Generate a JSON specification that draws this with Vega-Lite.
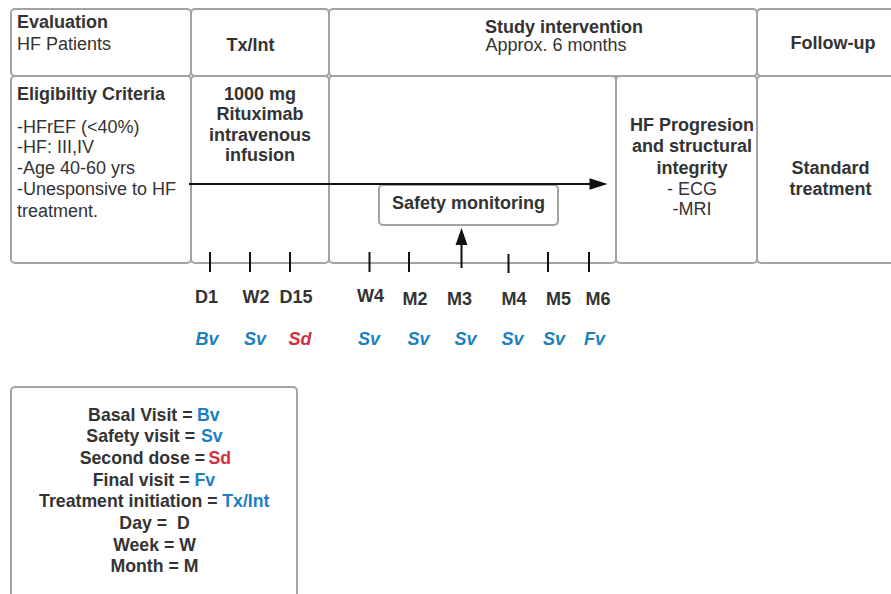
{
  "$schema": "https://vega.github.io/schema/vega-lite/v6.json",
  "width": 891,
  "height": 594,
  "autosize": {"type": "fit", "contains": "padding"},
  "padding": 0,
  "background": "white",
  "config": {"view": {"stroke": null}},
  "datasets": {
    "boxes": [
      {"name": "Evaluation", "x": 11, "x2": 191, "y": 9, "y2": 76},
      {"name": "TxTop", "x": 191, "x2": 329, "y": 9, "y2": 76},
      {"name": "StudyTop", "x": 329, "x2": 757, "y": 9, "y2": 76},
      {"name": "FollowTop", "x": 757, "x2": 900, "y": 9, "y2": 76},
      {"name": "Eligibility", "x": 11, "x2": 191, "y": 76, "y2": 263},
      {"name": "TxLow", "x": 191, "x2": 329, "y": 76, "y2": 263},
      {"name": "MidLow", "x": 329, "x2": 616, "y": 76, "y2": 263},
      {"name": "HF", "x": 616, "x2": 757, "y": 76, "y2": 263},
      {"name": "FollowLow", "x": 757, "x2": 900, "y": 76, "y2": 263},
      {"name": "Safety", "x": 379, "x2": 558, "y": 185, "y2": 225},
      {"name": "Legend", "x": 11, "x2": 297, "y": 387, "y2": 620}
    ],
    "ticks": [
      {"t": "D1", "x": 210, "y": 252, "y2": 272},
      {"t": "W2", "x": 250, "y": 252, "y2": 272},
      {"t": "D15", "x": 290, "y": 252, "y2": 272},
      {"t": "W4", "x": 369.5, "y": 252, "y2": 272},
      {"t": "M2", "x": 409, "y": 252, "y2": 272},
      {"t": "M4", "x": 508.5, "y": 254, "y2": 273},
      {"t": "M5", "x": 548, "y": 252, "y2": 272},
      {"t": "M6", "x": 589, "y": 252, "y2": 272}
    ],
    "arrowLines": [
      {"a": "timeline", "x": 189, "x2": 592, "y": 184, "y2": 184},
      {"a": "safety", "x": 461.5, "x2": 461.5, "y": 244, "y2": 268}
    ],
    "heads": [
      {"a": "timeline", "x": 598.5, "y": 184, "dir": "right"},
      {"a": "safety", "x": 461.5, "y": 236.5, "dir": "up"}
    ],
    "texts": [
      {"role": "boldLeft", "tone": "dark", "x": 17, "y": 23, "text": "Evaluation"},
      {"role": "boldLeft", "tone": "dark", "x": 17, "y": 95, "text": "Eligibiltiy Criteria"},
      {"role": "regLeft", "tone": "dark", "x": 17, "y": 44.5, "text": "HF Patients"},
      {"role": "regLeft", "tone": "dark", "x": 17, "y": 127.5, "text": "-HFrEF (<40%)"},
      {"role": "regLeft", "tone": "dark", "x": 17, "y": 148, "text": "-HF: III,IV"},
      {"role": "regLeft", "tone": "dark", "x": 17, "y": 169, "text": "-Age 40-60 yrs"},
      {"role": "regLeft", "tone": "dark", "x": 17, "y": 190, "text": "-Unesponsive to HF"},
      {"role": "regLeft", "tone": "dark", "x": 17, "y": 211.5, "text": "treatment."},
      {"role": "boldCenter", "tone": "dark", "x": 250.5, "y": 45.5, "text": "Tx/Int"},
      {"role": "boldCenter", "tone": "dark", "x": 564, "y": 27.5, "text": "Study intervention"},
      {"role": "regCenter", "tone": "dark", "x": 556, "y": 46, "text": "Approx. 6 months"},
      {"role": "boldCenter", "tone": "dark", "x": 833, "y": 43.5, "text": "Follow-up"},
      {"role": "boldCenter", "tone": "dark", "x": 260, "y": 94.5, "text": "1000 mg"},
      {"role": "boldCenter", "tone": "dark", "x": 260, "y": 115, "text": "Rituximab"},
      {"role": "boldCenter", "tone": "dark", "x": 260, "y": 135.5, "text": "intravenous"},
      {"role": "boldCenter", "tone": "dark", "x": 260, "y": 156, "text": "infusion"},
      {"role": "boldCenter", "tone": "dark", "x": 692, "y": 125.5, "text": "HF Progresion"},
      {"role": "boldCenter", "tone": "dark", "x": 692, "y": 147, "text": "and structural"},
      {"role": "boldCenter", "tone": "dark", "x": 692, "y": 169, "text": "integrity"},
      {"role": "regCenter", "tone": "dark", "x": 692, "y": 189.5, "text": "- ECG"},
      {"role": "regCenter", "tone": "dark", "x": 692, "y": 210, "text": "-MRI"},
      {"role": "boldCenter", "tone": "dark", "x": 830.5, "y": 169, "text": "Standard"},
      {"role": "boldCenter", "tone": "dark", "x": 830.5, "y": 189.5, "text": "treatment"},
      {"role": "boldCenter", "tone": "dark", "x": 468.5, "y": 203.5, "text": "Safety monitoring"},
      {"role": "boldCenter", "tone": "dark", "x": 206.5, "y": 297.5, "text": "D1"},
      {"role": "boldCenter", "tone": "dark", "x": 256, "y": 297.5, "text": "W2"},
      {"role": "boldCenter", "tone": "dark", "x": 296, "y": 297.5, "text": "D15"},
      {"role": "boldCenter", "tone": "dark", "x": 370.5, "y": 297, "text": "W4"},
      {"role": "boldCenter", "tone": "dark", "x": 415, "y": 299.5, "text": "M2"},
      {"role": "boldCenter", "tone": "dark", "x": 459.5, "y": 299.5, "text": "M3"},
      {"role": "boldCenter", "tone": "dark", "x": 514, "y": 299.5, "text": "M4"},
      {"role": "boldCenter", "tone": "dark", "x": 558.5, "y": 299.5, "text": "M5"},
      {"role": "boldCenter", "tone": "dark", "x": 598, "y": 299.5, "text": "M6"},
      {"role": "visit", "tone": "blue", "x": 207, "y": 340, "text": "Bv"},
      {"role": "visit", "tone": "blue", "x": 255, "y": 340, "text": "Sv"},
      {"role": "visit", "tone": "red", "x": 300, "y": 340, "text": "Sd"},
      {"role": "visit", "tone": "blue", "x": 369, "y": 340, "text": "Sv"},
      {"role": "visit", "tone": "blue", "x": 418.5, "y": 340, "text": "Sv"},
      {"role": "visit", "tone": "blue", "x": 465.5, "y": 340, "text": "Sv"},
      {"role": "visit", "tone": "blue", "x": 512.5, "y": 340, "text": "Sv"},
      {"role": "visit", "tone": "blue", "x": 554, "y": 340, "text": "Sv"},
      {"role": "visit", "tone": "blue", "x": 594.5, "y": 340, "text": "Fv"},
      {"role": "legendKey", "tone": "dark", "x": 192.5, "y": 416, "text": "Basal Visit ="},
      {"role": "legendVal", "tone": "blue", "x": 197, "y": 416, "text": "Bv"},
      {"role": "legendKey", "tone": "dark", "x": 195, "y": 437, "text": "Safety visit ="},
      {"role": "legendVal", "tone": "blue", "x": 201, "y": 437, "text": "Sv"},
      {"role": "legendKey", "tone": "dark", "x": 205, "y": 459, "text": "Second dose ="},
      {"role": "legendVal", "tone": "red", "x": 208.5, "y": 459, "text": "Sd"},
      {"role": "legendKey", "tone": "dark", "x": 189.5, "y": 481, "text": "Final visit ="},
      {"role": "legendVal", "tone": "blue", "x": 194.5, "y": 481, "text": "Fv"},
      {"role": "legendKey", "tone": "dark", "x": 217.5, "y": 502, "text": "Treatment initiation ="},
      {"role": "legendVal", "tone": "blue", "x": 222.3, "y": 502, "text": "Tx/Int"},
      {"role": "legendCenter", "tone": "dark", "x": 154.5, "y": 524, "text": "Day = \u00a0D"},
      {"role": "legendCenter", "tone": "dark", "x": 154.5, "y": 545.5, "text": "Week = W"},
      {"role": "legendCenter", "tone": "dark", "x": 154.5, "y": 566.5, "text": "Month = M"}
    ]
  },
  "layer": [
    {
      "data": {"name": "boxes"},
      "mark": {"type": "rect", "fill": "white", "stroke": "#a3a3a3", "strokeWidth": 2, "cornerRadius": 4, "clip": true},
      "encoding": {
        "x": {"field": "x", "type": "quantitative", "scale": {"domain": [0, 891], "nice": false, "zero": false}, "axis": null},
        "x2": {"field": "x2"},
        "y": {"field": "y", "type": "quantitative", "scale": {"domain": [0, 594], "nice": false, "zero": false, "reverse": true}, "axis": null},
        "y2": {"field": "y2"}
      }
    },
    {
      "data": {"name": "ticks"},
      "mark": {"type": "rule", "color": "#111111", "strokeWidth": 2},
      "encoding": {
        "x": {"field": "x", "type": "quantitative"},
        "y": {"field": "y", "type": "quantitative"},
        "y2": {"field": "y2"}
      }
    },
    {
      "data": {"name": "arrowLines"},
      "mark": {"type": "rule", "color": "#111111", "strokeWidth": 2},
      "encoding": {
        "x": {"field": "x", "type": "quantitative"},
        "x2": {"field": "x2"},
        "y": {"field": "y", "type": "quantitative"},
        "y2": {"field": "y2"}
      }
    },
    {
      "data": {"name": "heads"},
      "transform": [{"filter": "datum.dir === 'right'"}],
      "mark": {"type": "point", "filled": true, "color": "#111111", "opacity": 1, "size": 324, "shape": "M-1,-0.65L1,0L-1,0.65Z"},
      "encoding": {
        "x": {"field": "x", "type": "quantitative"},
        "y": {"field": "y", "type": "quantitative"}
      }
    },
    {
      "data": {"name": "heads"},
      "transform": [{"filter": "datum.dir === 'up'"}],
      "mark": {"type": "point", "filled": true, "color": "#111111", "opacity": 1, "size": 289, "shape": "M-0.7,1L0,-1L0.7,1Z"},
      "encoding": {
        "x": {"field": "x", "type": "quantitative"},
        "y": {"field": "y", "type": "quantitative"}
      }
    },
    {
      "data": {"name": "texts"},
      "transform": [{"filter": "datum.role === 'boldLeft'"}],
      "mark": {"type": "text", "font": "Liberation Sans", "fontSize": 18, "fontWeight": "bold", "align": "left", "baseline": "middle"},
      "encoding": {
        "x": {"field": "x", "type": "quantitative"},
        "y": {"field": "y", "type": "quantitative"},
        "text": {"field": "text"},
        "color": {"field": "tone", "type": "nominal", "scale": {"domain": ["dark", "blue", "red"], "range": ["#333333", "#1b7fc0", "#d2323c"]}, "legend": null}
      }
    },
    {
      "data": {"name": "texts"},
      "transform": [{"filter": "datum.role === 'regLeft'"}],
      "mark": {"type": "text", "font": "Liberation Sans", "fontSize": 18, "align": "left", "baseline": "middle"},
      "encoding": {
        "x": {"field": "x", "type": "quantitative"},
        "y": {"field": "y", "type": "quantitative"},
        "text": {"field": "text"},
        "color": {"field": "tone", "type": "nominal", "legend": null}
      }
    },
    {
      "data": {"name": "texts"},
      "transform": [{"filter": "datum.role === 'boldCenter'"}],
      "mark": {"type": "text", "font": "Liberation Sans", "fontSize": 18, "fontWeight": "bold", "align": "center", "baseline": "middle"},
      "encoding": {
        "x": {"field": "x", "type": "quantitative"},
        "y": {"field": "y", "type": "quantitative"},
        "text": {"field": "text"},
        "color": {"field": "tone", "type": "nominal", "legend": null}
      }
    },
    {
      "data": {"name": "texts"},
      "transform": [{"filter": "datum.role === 'regCenter'"}],
      "mark": {"type": "text", "font": "Liberation Sans", "fontSize": 18, "align": "center", "baseline": "middle"},
      "encoding": {
        "x": {"field": "x", "type": "quantitative"},
        "y": {"field": "y", "type": "quantitative"},
        "text": {"field": "text"},
        "color": {"field": "tone", "type": "nominal", "legend": null}
      }
    },
    {
      "data": {"name": "texts"},
      "transform": [{"filter": "datum.role === 'visit'"}],
      "mark": {"type": "text", "font": "Liberation Sans", "fontSize": 18, "fontWeight": "bold", "fontStyle": "italic", "align": "center", "baseline": "middle"},
      "encoding": {
        "x": {"field": "x", "type": "quantitative"},
        "y": {"field": "y", "type": "quantitative"},
        "text": {"field": "text"},
        "color": {"field": "tone", "type": "nominal", "legend": null}
      }
    },
    {
      "data": {"name": "texts"},
      "transform": [{"filter": "datum.role === 'legendKey'"}],
      "mark": {"type": "text", "font": "Liberation Sans", "fontSize": 17.7, "fontWeight": "bold", "align": "right", "baseline": "middle"},
      "encoding": {
        "x": {"field": "x", "type": "quantitative"},
        "y": {"field": "y", "type": "quantitative"},
        "text": {"field": "text"},
        "color": {"field": "tone", "type": "nominal", "legend": null}
      }
    },
    {
      "data": {"name": "texts"},
      "transform": [{"filter": "datum.role === 'legendVal'"}],
      "mark": {"type": "text", "font": "Liberation Sans", "fontSize": 17.7, "fontWeight": "bold", "align": "left", "baseline": "middle"},
      "encoding": {
        "x": {"field": "x", "type": "quantitative"},
        "y": {"field": "y", "type": "quantitative"},
        "text": {"field": "text"},
        "color": {"field": "tone", "type": "nominal", "legend": null}
      }
    },
    {
      "data": {"name": "texts"},
      "transform": [{"filter": "datum.role === 'legendCenter'"}],
      "mark": {"type": "text", "font": "Liberation Sans", "fontSize": 17.7, "fontWeight": "bold", "align": "center", "baseline": "middle"},
      "encoding": {
        "x": {"field": "x", "type": "quantitative"},
        "y": {"field": "y", "type": "quantitative"},
        "text": {"field": "text"},
        "color": {"field": "tone", "type": "nominal", "legend": null}
      }
    }
  ]
}
